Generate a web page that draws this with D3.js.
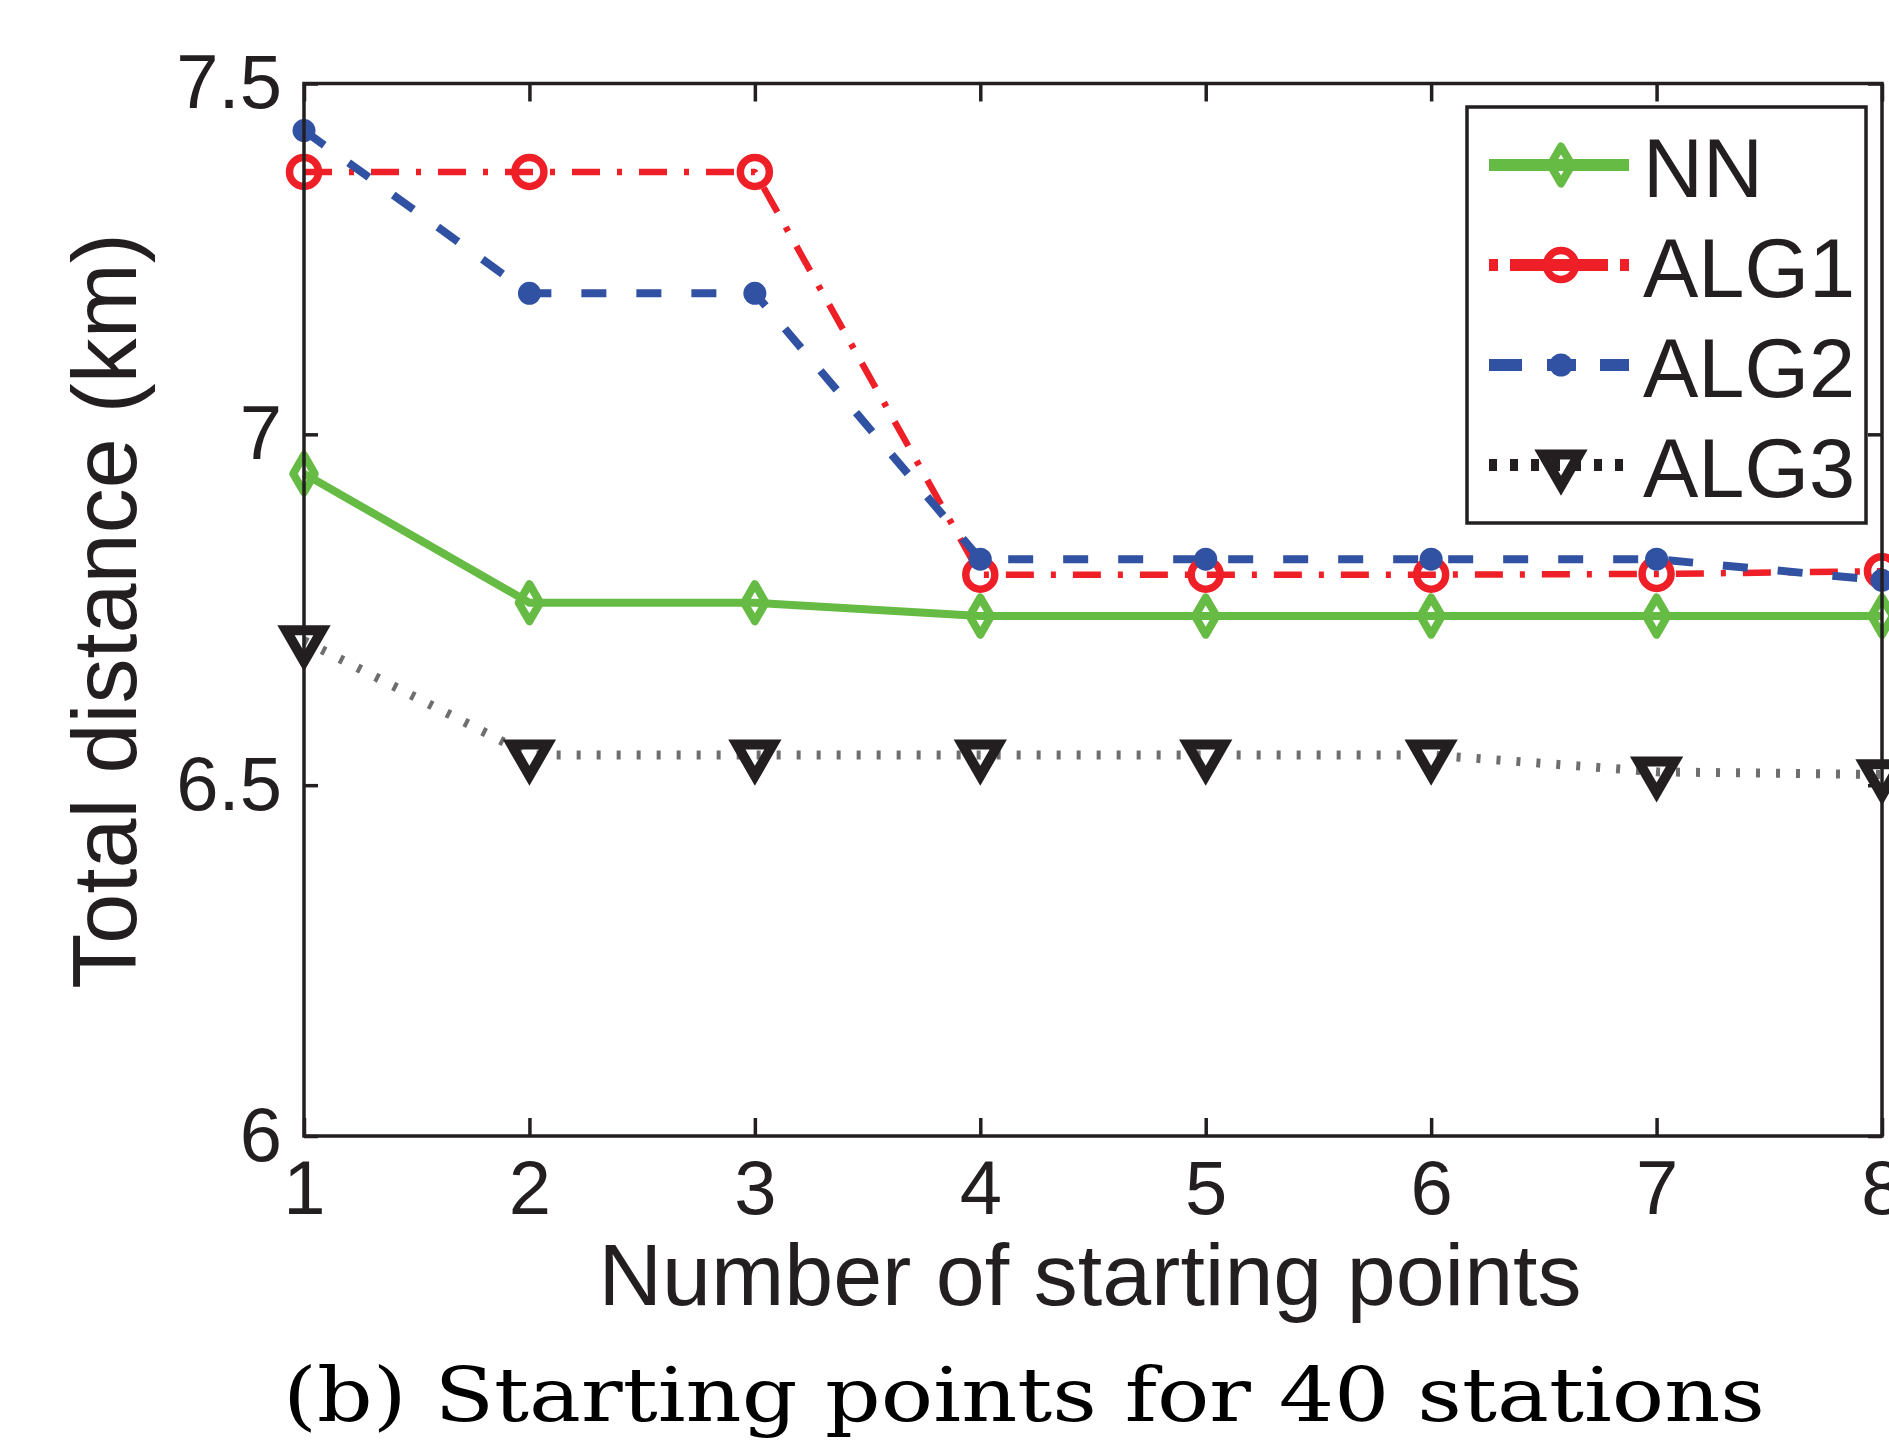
<!DOCTYPE html>
<html>
<head>
<meta charset="utf-8">
<script src="https://cdn.jsdelivr.net/npm/d3@7"></script>
<style>
  html, body { margin: 0; padding: 0; background: #fff; }
  svg { display: block; }
</style>
</head>
<body>
<div id="chart"></div>
<script>
  // values
  const startingPoints = [1, 2, 3, 4, 5, 6, 7, 8];
  const nn   = [6.944, 6.760, 6.760, 6.741, 6.741, 6.741, 6.741, 6.741];
  const alg1 = [7.374, 7.374, 7.374, 6.800, 6.800, 6.800, 6.801, 6.805];
  const alg2 = [7.433, 7.201, 7.201, 6.822, 6.822, 6.822, 6.822, 6.792];
  const alg3 = [6.706, 6.543, 6.543, 6.543, 6.543, 6.543, 6.519, 6.515];
  const seriesNames = ["NN", "ALG1", "ALG2", "ALG3"];
  const xTicks = [1, 2, 3, 4, 5, 6, 7, 8];
  const yTicks = [6, 6.5, 7, 7.5];

  const width = 1889, height = 1441;
  const plot = {left: 304, right: 1882, top: 83.5, bottom: 1136};
  const axisColor = "#231f20";
  const font = "'Liberation Sans', Arial, sans-serif";

  const x = d3.scaleLinear().domain([1, 8]).range([plot.left, plot.right]);
  const y = d3.scaleLinear().domain([6, 7.5]).range([plot.bottom, plot.top]);

  const svg = d3.select("#chart").append("svg")
    .attr("width", width)
    .attr("height", height)
    .style("background", "#fff");

  // series styles
  const styles = [
    {color: "#66bb44", width: 8,   dash: null,         marker: "diamond"},
    {color: "#ee1f26", width: 6.5, dash: "28,17,5,17", marker: "circle"},
    {color: "#3152a3", width: 8,   dash: "25,30",      marker: "dot"},
    {color: "#6e6e6e", width: 9,   dash: "4,16",       marker: "triangle", markerColor: "#231f20"}
  ];
  const legendDash = [null, "9,12,98,12,9", "33,25,29,24,29", "8,13"];
  const values = [nn, alg1, alg2, alg3];

  // axes (ticks point inwards, on all four sides)
  const fmt = d => d3.format("~g")(d);
  svg.append("g")
    .attr("transform", `translate(0,${plot.bottom})`)
    .call(d3.axisBottom(x).tickValues(xTicks).tickFormat(fmt).tickSizeInner(-18).tickSizeOuter(0).tickPadding(24))
    .call(g => g.select(".domain").remove());
  svg.append("g")
    .attr("transform", `translate(0,${plot.top})`)
    .call(d3.axisTop(x).tickValues(xTicks).tickFormat("").tickSizeInner(-18).tickSizeOuter(0))
    .call(g => g.select(".domain").remove());
  svg.append("g")
    .attr("transform", `translate(${plot.left},0)`)
    .call(d3.axisLeft(y).tickValues(yTicks).tickFormat(fmt).tickSizeInner(-14).tickSizeOuter(0).tickPadding(22))
    .call(g => g.select(".domain").remove());
  svg.append("g")
    .attr("transform", `translate(${plot.right},0)`)
    .call(d3.axisRight(y).tickValues(yTicks).tickFormat("").tickSizeInner(-14).tickSizeOuter(0))
    .call(g => g.select(".domain").remove());

  svg.selectAll(".tick line").attr("stroke", axisColor).attr("stroke-width", 3.5);
  svg.selectAll(".tick text")
    .attr("fill", axisColor)
    .style("font-family", font)
    .style("font-size", "76px");

  // lines
  const line = d3.line().x((d, i) => x(startingPoints[i])).y(d => y(d));
  values.forEach((vals, k) => {
    const s = styles[k];
    svg.append("path")
      .datum(vals)
      .attr("d", line)
      .attr("fill", "none")
      .attr("stroke", s.color)
      .attr("stroke-width", s.width)
      .attr("stroke-dasharray", s.dash)
      .attr("stroke-linejoin", "round");
  });

  function drawMarker(g, s, cx, cy) {
    if (s.marker === "diamond") {
      g.append("path")
        .attr("d", d3.symbol(d3.symbolDiamond, 400)())
        .attr("transform", `translate(${cx},${cy})`)
        .attr("fill", "none").attr("stroke", s.color).attr("stroke-width", 8)
        .attr("stroke-linejoin", "round");
    } else if (s.marker === "circle") {
      g.append("circle").attr("cx", cx).attr("cy", cy).attr("r", 14.5)
        .attr("fill", "none").attr("stroke", s.color).attr("stroke-width", 7.5);
    } else if (s.marker === "dot") {
      g.append("circle").attr("cx", cx).attr("cy", cy).attr("r", 11.5)
        .attr("fill", s.color);
    } else {
      g.append("path")
        .attr("d", d3.symbol(d3.symbolTriangle, 560)())
        .attr("transform", `translate(${cx},${cy}) rotate(180)`)
        .attr("fill", "none").attr("stroke", s.markerColor).attr("stroke-width", 10);
    }
  }

  values.forEach((vals, k) => {
    const g = svg.append("g");
    vals.forEach((v, i) => drawMarker(g, styles[k], x(startingPoints[i]), y(v)));
  });

  // axes box
  svg.append("rect")
    .attr("x", plot.left).attr("y", plot.top)
    .attr("width", plot.right - plot.left).attr("height", plot.bottom - plot.top)
    .attr("fill", "none").attr("stroke", axisColor).attr("stroke-width", 3.5);

  // legend
  const legend = svg.append("g");
  legend.append("rect")
    .attr("x", 1467).attr("y", 107).attr("width", 399).attr("height", 416)
    .attr("fill", "#fff").attr("stroke", axisColor).attr("stroke-width", 3.5);
  const rowY = d3.scaleLinear().domain([0, 3]).range([165, 465]);
  seriesNames.forEach((name, k) => {
    const s = styles[k];
    const yy = rowY(k);
    legend.append("line")
      .attr("x1", 1489).attr("x2", 1629).attr("y1", yy).attr("y2", yy)
      .attr("stroke", k === 3 ? s.markerColor : s.color)
      .attr("stroke-width", 12)
      .attr("stroke-dasharray", legendDash[k]);
    drawMarker(legend, s, 1561, yy);
    legend.append("text")
      .attr("x", 1643).attr("y", yy + 32)
      .attr("fill", axisColor)
      .style("font-family", font).style("font-size", "83px")
      .text(name);
  });

  // axis titles
  svg.append("text")
    .attr("x", 1090).attr("y", 1305)
    .attr("text-anchor", "middle")
    .attr("fill", axisColor)
    .style("font-family", font).style("font-size", "88px")
    .text("Number of starting points");
  svg.append("text")
    .attr("transform", "translate(136,611) rotate(-90)")
    .attr("text-anchor", "middle")
    .attr("fill", axisColor)
    .style("font-family", font).style("font-size", "90px")
    .text("Total distance (km)");

  // caption
  svg.append("text")
    .attr("x", 283).attr("y", 1421)
    .attr("textLength", 1482)
    .attr("lengthAdjust", "spacingAndGlyphs")
    .attr("fill", "#000")
    .style("font-family", "'DejaVu Serif', serif").style("font-size", "75px")
    .text("(b) Starting points for 40 stations");
</script>
</body>
</html>
